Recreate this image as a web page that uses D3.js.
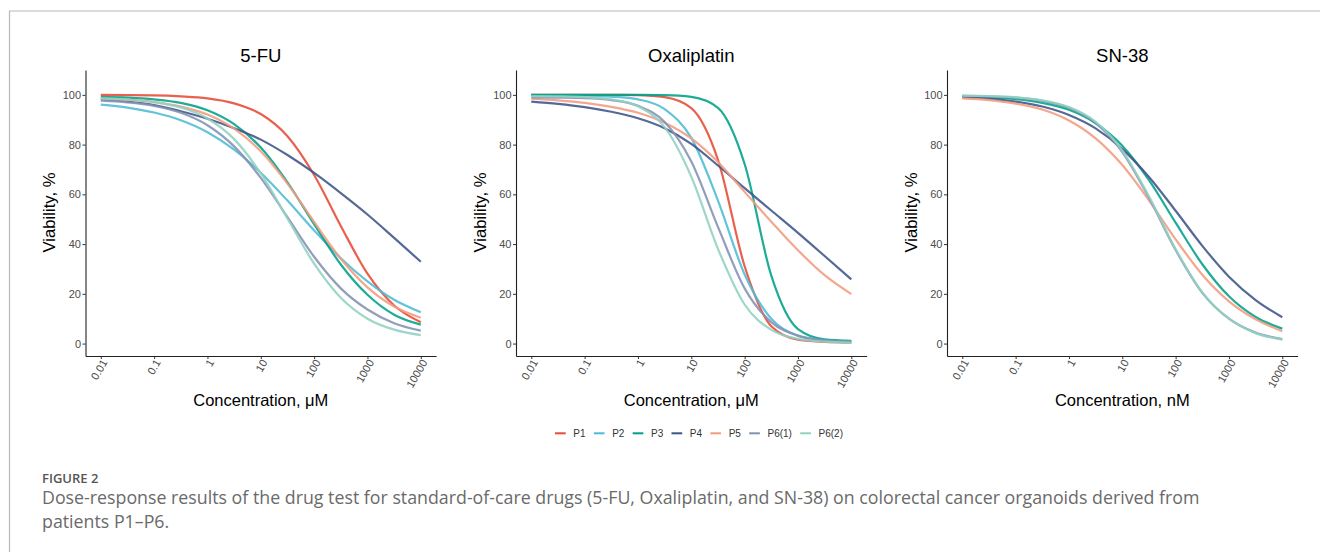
<!DOCTYPE html>
<html>
<head>
<meta charset="utf-8">
<script src="https://cdn.jsdelivr.net/npm/d3@7"></script>
<style>
  body { margin: 0; background: #fff; }
  svg { display: block; }
</style>
</head>
<body>
<div class="figure"></div>
<script>
const doses = [0.01, 0.03162, 0.1, 0.3162, 1, 3.162, 10, 31.62, 100, 316.2, 1000, 3162, 10000];
const xTickValues = [0.01, 0.1, 1, 10, 100, 1000, 10000];
const xTickLabels = ['0.01', '0.1', '1', '10', '100', '1000', '10000'];
const yTickValues = [0, 20, 40, 60, 80, 100];

const patients = ['P1', 'P2', 'P3', 'P4', 'P5', 'P6(1)', 'P6(2)'];
const drugs = ['5-FU', 'Oxaliplatin', 'SN-38'];
const units = ['\u03bcM', '\u03bcM', 'nM'];

// viability, % (one row per patient, same order as patients)
const fu = [
  [100.0, 99.9, 99.8, 99.4, 98.6, 96.6, 92.3, 83.4, 67.8, 47.3, 28.1, 15.3, 8.6],
  [96.1, 94.9, 92.9, 89.8, 85.0, 78.0, 68.7, 57.5, 45.5, 34.3, 25.0, 17.6, 12.6],
  [99.2, 98.9, 98.2, 96.8, 93.8, 88.2, 78.8, 64.8, 48.0, 31.8, 19.6, 11.6, 7.6],
  [98.3, 97.3, 95.9, 93.4, 90.4, 86.6, 82.0, 75.8, 68.6, 60.5, 51.9, 42.5, 32.9],
  [98.5, 98.0, 97.1, 95.3, 92.1, 86.4, 77.3, 64.3, 48.9, 34.1, 22.6, 14.9, 10.4],
  [97.7, 97.0, 95.6, 92.8, 87.8, 79.3, 66.6, 50.8, 34.9, 22.2, 13.7, 8.2, 5.2],
  [98.6, 98.1, 97.1, 94.9, 90.5, 82.2, 68.4, 50.3, 32.1, 18.4, 10.0, 5.6, 3.4]
];
const oxa = [
  [100.0, 100.0, 100.0, 100.0, 99.9, 99.1, 94.7, 73.9, 31.1, 7.0, 1.6, 0.7, 0.5],
  [99.8, 99.8, 99.7, 99.3, 98.2, 94.3, 82.7, 57.5, 27.8, 10.0, 3.2, 1.1, 0.5],
  [100.0, 100.0, 100.0, 100.0, 100.0, 99.9, 99.2, 94.8, 72.2, 27.3, 5.8, 1.7, 1.1],
  [97.3, 96.4, 95.1, 93.2, 90.6, 86.6, 80.3, 71.6, 62.5, 53.5, 44.5, 35.2, 25.8],
  [98.5, 97.8, 96.8, 95.2, 92.8, 88.8, 82.5, 73.0, 61.0, 49.0, 37.5, 27.5, 19.9],
  [99.0, 98.9, 98.7, 97.9, 95.6, 89.1, 73.2, 46.9, 22.2, 8.6, 3.2, 1.4, 0.8],
  [99.5, 99.4, 99.1, 98.2, 95.4, 87.0, 67.1, 38.1, 15.7, 5.5, 1.9, 0.8, 0.4]
];
const sn38 = [
  null,
  null,
  [99.3, 99.0, 98.3, 96.8, 94.0, 88.6, 79.5, 65.7, 48.6, 31.9, 19.0, 10.7, 6.0],
  [99.1, 98.5, 97.3, 95.3, 91.9, 86.5, 78.2, 67.0, 53.4, 39.3, 26.9, 17.5, 10.6],
  [98.6, 97.9, 96.5, 94.1, 89.7, 82.5, 71.8, 57.6, 41.9, 27.7, 17.0, 9.8, 5.0],
  [99.6, 99.4, 98.9, 97.6, 94.8, 88.7, 77.0, 58.6, 37.6, 20.4, 10.0, 4.4, 1.8],
  [99.7, 99.5, 99.0, 97.8, 95.1, 89.2, 77.6, 59.2, 38.0, 20.6, 10.0, 4.2, 1.6]
];
const drugData = [fu, oxa, sn38];

const colors = ['#E64B35', '#4DBBD5', '#00A087', '#3C5488', '#F39B7F', '#8491B4', '#91D1C2'];

const captionHead = 'FIGURE 2';
const captionLines = [
  'Dose-response results of the drug test for standard-of-care drugs (5-FU, Oxaliplatin, and SN-38) on colorectal cancer organoids derived from',
  'patients P1\u2013P6.'
];

const width = 1320;
const height = 552;
const font = '"Liberation Sans", Arial, sans-serif';

const svg = d3.select('.figure').append('svg').attr('width', width).attr('height', height);

// frame lines of the figure box
svg.append('path')
  .attr('d', 'M9.5,552 V11 H1320')
  .attr('fill', 'none')
  .attr('stroke', '#b8b8b8')
  .attr('stroke-width', 1.2);

const panelLeft = [85.5, 516, 947];
const axisLen = 350.6;
const pad = 15.3 / (320 / 6); // decades of padding either side
const yTop = 70, yBottom = 356;

drugs.forEach((drug, i) => {
  const left = panelLeft[i];
  const x = d3.scaleLog()
    .domain([Math.pow(10, -2 - pad), Math.pow(10, 4 + pad)])
    .range([left, left + axisLen]);
  const y = d3.scaleLinear().domain([-5, 110]).range([yBottom, yTop]);
  const g = svg.append('g');

  // y axis
  const gy = g.append('g')
    .attr('transform', `translate(${left},0)`)
    .call(d3.axisLeft(y).tickValues(yTickValues).tickSize(3).tickSizeOuter(0).tickPadding(1.5));
  // x axis
  const gx = g.append('g')
    .attr('transform', `translate(0,${yBottom})`)
    .call(d3.axisBottom(x).tickValues(xTickValues).tickFormat((d, k) => xTickLabels[k]).tickSize(3).tickSizeOuter(0));
  gx.selectAll('.tick text')
    .attr('x', 0).attr('y', 0).attr('dy', null)
    .attr('text-anchor', 'end')
    .attr('transform', 'translate(6.5,6.3) rotate(-60)');

  [gx, gy].forEach(a => {
    a.select('.domain').attr('stroke', '#222').attr('stroke-width', 1.1);
    a.selectAll('.tick line').attr('stroke', '#333').attr('stroke-width', 1);
    a.selectAll('.tick text').attr('fill', '#4d4d4d').attr('font-size', 11).attr('font-family', font);
  });

  // curves
  const line = d3.line()
    .x((d, k) => x(doses[k]))
    .y(d => y(d))
    .curve(d3.curveMonotoneX);
  drugData[i].forEach((vals, p) => {
    if (!vals) return;
    g.append('path')
      .attr('d', line(vals))
      .attr('fill', 'none')
      .attr('stroke', colors[p])
      .attr('stroke-width', 2.2)
      .attr('stroke-opacity', 0.88);
  });

  const cx = left + axisLen / 2;
  g.append('text')
    .attr('x', cx).attr('y', 61.7)
    .attr('text-anchor', 'middle')
    .attr('font-family', font).attr('font-size', 18.5)
    .attr('fill', '#000')
    .text(drug);
  g.append('text')
    .attr('x', cx).attr('y', 405.5)
    .attr('text-anchor', 'middle')
    .attr('font-family', font).attr('font-size', 16.5)
    .attr('fill', '#000')
    .text('Concentration, ' + units[i]);
  g.append('text')
    .attr('transform', `translate(${left - 30.5},212.5) rotate(-90)`)
    .attr('text-anchor', 'middle')
    .attr('font-family', font).attr('font-size', 16.7)
    .attr('fill', '#000')
    .text('Viability, %');
});

// legend
const legend = svg.append('g').attr('transform', 'translate(0,433.3)');
let lx = 555;
patients.forEach((p, k) => {
  legend.append('line')
    .attr('x1', lx).attr('x2', lx + 10.7)
    .attr('y1', 0).attr('y2', 0)
    .attr('stroke', colors[k]).attr('stroke-width', 2);
  const t = legend.append('text')
    .attr('x', lx + 18.3).attr('y', 0).attr('dy', '0.35em')
    .attr('font-family', font).attr('font-size', 10)
    .attr('fill', '#333')
    .text(p);
  lx += 18.3 + t.node().getComputedTextLength() + 8.3;
});

// caption
const capFont = '"Open Sans", "Noto Sans", sans-serif';
svg.append('text')
  .attr('x', 42).attr('y', 482.7)
  .attr('font-family', capFont).attr('font-size', 13).attr('font-weight', 600)
  .attr('fill', '#555')
  .text(captionHead);
svg.selectAll('text.caption')
  .data(captionLines)
  .enter()
  .append('text')
  .attr('class', 'caption')
  .attr('x', 42)
  .attr('y', (d, k) => 503.5 + k * 24)
  .attr('font-family', capFont).attr('font-size', 17.8)
  .attr('fill', '#6a6a6a')
  .text(d => d);
</script>
</body>
</html>
